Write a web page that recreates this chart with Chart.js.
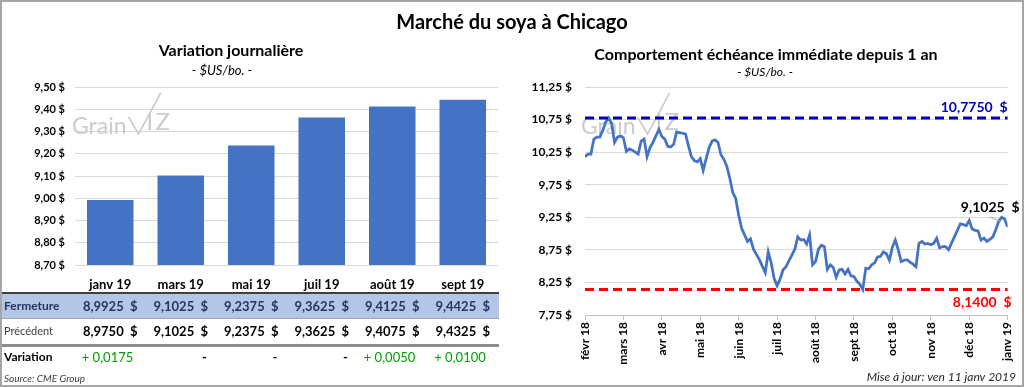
<!DOCTYPE html>
<html><head><meta charset="utf-8">
<script src="https://cdn.jsdelivr.net/npm/chart.js@4.4.1/dist/chart.umd.min.js"></script>
<style>
html,body{margin:0;padding:0;background:#fff;}
#wrap{position:relative;width:1024px;height:387px;overflow:hidden;font-family:Lato,sans-serif;}
#frame{position:absolute;left:0;top:0;width:1024px;height:387px;box-sizing:border-box;border:2px solid #a6a6a6;pointer-events:none;}
#left{position:absolute;left:0;top:0;width:512px;height:387px;}
#right{position:absolute;left:512px;top:0;width:512px;height:387px;}
#title{position:absolute;left:0;top:9px;width:1024px;text-align:center;font:bold 20px Lato;line-height:24px;color:#000;}
</style></head>
<body><div id="wrap">
<div id="left"><canvas id="c1" width="512" height="387"></canvas></div>
<div id="right"><canvas id="c2" width="512" height="387"></canvas></div>
<div id="title">Marché du soya à Chicago</div>
<div id="frame"></div>
</div>
<script>
// ---------- DATA ----------
const contractLabels = ['janv 19','mars 19','mai 19','juil 19','août 19','sept 19'];
const closeValues    = [8.9925, 9.1025, 9.2375, 9.3625, 9.4125, 9.4425];
const previousValues = [8.9750, 9.1025, 9.2375, 9.3625, 9.4075, 9.4325];
const rowLabels = ['Fermeture','Précédent','Variation'];

const monthLabels = ['févr 18','mars 18','avr 18','mai 18','juin 18','juil 18','août 18','sept 18','oct 18','nov 18','déc 18','janv 19'];
const pointsPerMonth = 13;
const nearbyPrices = [
 10.18,10.22,10.22,10.45,10.48,10.48,10.58,10.71,10.775,10.69,10.40,10.48,10.50,
 10.47,10.26,10.30,10.28,10.25,10.22,10.42,10.45,10.18,10.32,10.40,10.50,10.60,
 10.49,10.45,10.34,10.33,10.37,10.56,10.55,10.54,10.53,10.35,10.18,10.12,10.10,
 10.15,9.97,10.15,10.32,10.42,10.44,10.40,10.21,10.14,10.03,9.85,9.63,9.54,
 9.28,9.08,8.98,8.88,8.92,8.76,8.68,8.60,8.50,8.40,8.72,8.55,8.31,
 8.20,8.30,8.44,8.49,8.58,8.67,8.76,8.95,8.90,8.91,8.84,8.98,8.52,
 8.57,8.76,8.82,8.80,8.45,8.52,8.48,8.33,8.44,8.45,8.38,8.45,8.35,
 8.34,8.27,8.22,8.14,8.47,8.46,8.52,8.55,8.64,8.65,8.72,8.69,8.59,
 8.79,8.90,8.75,8.57,8.59,8.60,8.56,8.53,8.49,8.85,8.88,8.84,8.85,
 8.83,8.85,8.93,8.78,8.80,8.80,8.75,8.85,8.95,9.05,9.15,9.14,9.12,
 9.20,9.07,9.05,9.04,8.90,8.93,8.88,8.91,8.95,9.06,9.19,9.25,9.22,
 9.1025
];
const yearHigh = 10.7750;
const yearLow = 8.1400;
const lastPrice = 9.1025;

const leftTitle = 'Variation journalière';
const rightTitle = 'Comportement échéance immédiate depuis 1 an';
const unitText = '- $US/bo. -';
const sourceText = 'Source: CME Group';
const updateText = 'Mise à jour: ven 11 janv 2019';

// ---------- HELPERS ----------
const FONT = 'Lato';
function fmt4(v){ return v.toFixed(4).replace('.', ','); }
function money4(v){ return fmt4(v) + '  $'; }
function drawWatermark(ctx, x, base){
  ctx.save();
  ctx.fillStyle = '#cccccc'; ctx.strokeStyle = '#cccccc';
  ctx.font = '23px ' + FONT; ctx.textAlign = 'left'; ctx.textBaseline = 'alphabetic';
  ctx.fillText('Grain', x, base);
  const w = ctx.measureText('Grain').width;
  ctx.lineWidth = 1.6;
  ctx.beginPath();
  ctx.moveTo(x + w + 2, base - 17);
  ctx.lineTo(x + w + 12, base);
  ctx.lineTo(x + w + 34, base - 41);
  ctx.stroke();
  ctx.font = '24px ' + FONT;
  ctx.fillText('I', x + w + 20, base - 4);
  ctx.fillText('Z', x + w + 29, base - 4);
  ctx.restore();
}

// ---------- LEFT CHART ----------
const leftDecor = {
  id: 'leftDecor',
  beforeDatasetsDraw(chart){ drawWatermark(chart.ctx, 72, 134); },
  afterDraw(chart){
    const ctx = chart.ctx, xs = chart.scales.x;
    ctx.save();
    ctx.textBaseline = 'alphabetic';
    ctx.fillStyle = '#000'; ctx.textAlign = 'center';
    ctx.font = 'bold 16px ' + FONT; ctx.fillText(leftTitle, 231, 56);
    ctx.font = 'italic 13px ' + FONT; ctx.fillText(unitText, 222, 75);

    const W = 499;
    ctx.fillStyle = '#404040'; ctx.fillRect(0, 292, W, 2);
    ctx.fillStyle = '#B4C6E7'; ctx.fillRect(0, 294, W, 24);
    ctx.fillStyle = '#a6a6a6'; ctx.fillRect(0, 318, W, 1);
    ctx.fillStyle = '#8c8c8c'; ctx.fillRect(0, 344, W, 3);

    ctx.textAlign = 'left';
    ctx.font = 'bold 12px ' + FONT; ctx.fillStyle = '#1F3864'; ctx.fillText(rowLabels[0], 4, 310);
    ctx.font = '11px ' + FONT; ctx.fillStyle = '#404040'; ctx.fillText(rowLabels[1], 4, 335);
    ctx.font = 'bold 12px ' + FONT; ctx.fillStyle = '#000'; ctx.fillText(rowLabels[2], 4, 361);

    contractLabels.forEach((lab, i) => {
      const cx = xs.getPixelForValue(i);
      ctx.textAlign = 'center';
      ctx.font = 'bold 13px ' + FONT;
      ctx.fillStyle = '#1F3864'; ctx.fillText(money4(closeValues[i]), cx, 311);
      ctx.fillStyle = '#000'; ctx.fillText(money4(previousValues[i]), cx, 336);
      const d = closeValues[i] - previousValues[i];
      ctx.textAlign = 'right';
      if (Math.abs(d) < 1e-9) {
        ctx.fillStyle = '#000'; ctx.font = 'bold 13px ' + FONT;
        ctx.fillText('-', cx + 26, 362);
      } else {
        ctx.fillStyle = '#00A000'; ctx.font = '13px ' + FONT;
        ctx.fillText((d > 0 ? '+ ' : '- ') + fmt4(Math.abs(d)), cx + 23, 362);
      }
    });
    ctx.textAlign = 'left'; ctx.fillStyle = '#404040';
    ctx.font = 'italic 10px ' + FONT; ctx.fillText(sourceText, 4, 382);
    ctx.restore();
  }
};

// ---------- RIGHT CHART ----------
const rightDecor = {
  id: 'rightDecor',
  beforeDatasetsDraw(chart){ drawWatermark(chart.ctx, 69, 134); },
  afterDatasetsDraw(chart){
    const ctx = chart.ctx, ys = chart.scales.y, xs = chart.scales.x, ca = chart.chartArea;
    ctx.save();
    ctx.lineWidth = 3; ctx.setLineDash([9, 5]);
    const yh = ys.getPixelForValue(yearHigh);
    ctx.strokeStyle = '#0000BF';
    ctx.beginPath(); ctx.moveTo(ca.left, yh); ctx.lineTo(ca.right, yh); ctx.stroke();
    const yl = ys.getPixelForValue(yearLow);
    ctx.strokeStyle = '#FF0000';
    ctx.beginPath(); ctx.moveTo(ca.left, yl); ctx.lineTo(ca.right, yl); ctx.stroke();
    ctx.setLineDash([]);

    ctx.textBaseline = 'alphabetic'; ctx.textAlign = 'right';
    ctx.font = 'bold 14px ' + FONT;
    ctx.fillStyle = '#0000BF'; ctx.fillText(money4(yearHigh), ca.right, yh - 6);
    ctx.fillStyle = '#FF0000'; ctx.fillText(money4(yearLow), ca.right + 4, yl + 17);

    const lx = xs.getPixelForValue(nearbyPrices.length - 1);
    const ly = ys.getPixelForValue(lastPrice);
    ctx.strokeStyle = '#a6a6a6'; ctx.lineWidth = 1;
    ctx.beginPath(); ctx.moveTo(lx - 18, ly - 10); ctx.lineTo(lx - 6, ly - 5); ctx.stroke();
    ctx.fillStyle = '#000'; ctx.fillText(money4(lastPrice), lx + 12, ly - 15);
    ctx.restore();
  },
  afterDraw(chart){
    const ctx = chart.ctx;
    ctx.save();
    ctx.textBaseline = 'alphabetic'; ctx.fillStyle = '#000'; ctx.textAlign = 'center';
    ctx.font = 'bold 16px ' + FONT; ctx.fillText(rightTitle, 254, 60);
    ctx.font = 'italic 12px ' + FONT; ctx.fillText(unitText, 253, 76);
    ctx.textAlign = 'right'; ctx.fillStyle = '#262626';
    ctx.font = 'italic 12px ' + FONT; ctx.fillText(updateText, 504, 381);
    ctx.restore();
  }
};

function build(){
  new Chart(document.getElementById('c1'), {
    type: 'bar',
    data: { labels: contractLabels, datasets: [{ data: closeValues, backgroundColor: '#4472C4', barPercentage: 0.66, categoryPercentage: 1 }] },
    options: {
      responsive: false, animation: false,
      layout: { padding: { top: 87, right: 14, left: 0, bottom: 0 } },
      plugins: { legend: { display: false }, tooltip: { enabled: false } },
      scales: {
        x: {
          grid: { display: false, drawTicks: false }, border: { display: false },
          ticks: { color: '#000', font: { family: FONT, size: 13, weight: 'bold' }, padding: 12, maxRotation: 0, autoSkip: false },
          afterFit(s){ s.height = 122; }
        },
        y: {
          min: 8.7, max: 9.5,
          ticks: { stepSize: 0.1, color: '#000', font: { family: FONT, size: 11, weight: 'bold' }, padding: 10,
                   callback: v => v.toFixed(2).replace('.', ',') + ' $' },
          grid: { color: '#d9d9d9', drawTicks: false }, border: { display: false },
          afterFit(s){ s.width = 75; }
        }
      }
    },
    plugins: [leftDecor]
  });

  new Chart(document.getElementById('c2'), {
    type: 'line',
    data: { labels: nearbyPrices.map((_, i) => i),
            datasets: [{ data: nearbyPrices, borderColor: '#4472C4', borderWidth: 2.75, pointRadius: 0, tension: 0, fill: false }] },
    options: {
      responsive: false, animation: false,
      layout: { padding: { top: 87, right: 16, left: 0, bottom: 0 } },
      plugins: { legend: { display: false }, tooltip: { enabled: false } },
      scales: {
        x: {
          type: 'linear', min: 0, max: nearbyPrices.length - 1,
          afterBuildTicks(s){ s.ticks = monthLabels.map((_, k) => ({ value: k * pointsPerMonth })); },
          ticks: { autoSkip: false, minRotation: 90, maxRotation: 90, padding: 2, color: '#000',
                   font: { family: FONT, size: 12, weight: 'bold' },
                   callback: (v, idx) => monthLabels[idx] },
          grid: { drawOnChartArea: false, drawTicks: true, tickLength: 5, color: '#bfbfbf' },
          border: { display: true, color: '#bfbfbf' },
          afterFit(s){ s.height = 72; }
        },
        y: {
          min: 7.75, max: 11.25,
          ticks: { stepSize: 0.5, color: '#000', font: { family: FONT, size: 12, weight: 'bold' }, padding: 13,
                   callback: v => v.toFixed(2).replace('.', ',') + ' $' },
          grid: { color: '#d9d9d9', drawTicks: false }, border: { display: false },
          afterFit(s){ s.width = 73; }
        }
      }
    },
    plugins: [rightDecor]
  });
}
if (document.fonts && document.fonts.load) {
  Promise.all(['bold 16px Lato','italic 12px Lato','12px Lato'].map(f => document.fonts.load(f))).then(build, build);
} else build();
</script>
</body></html>
